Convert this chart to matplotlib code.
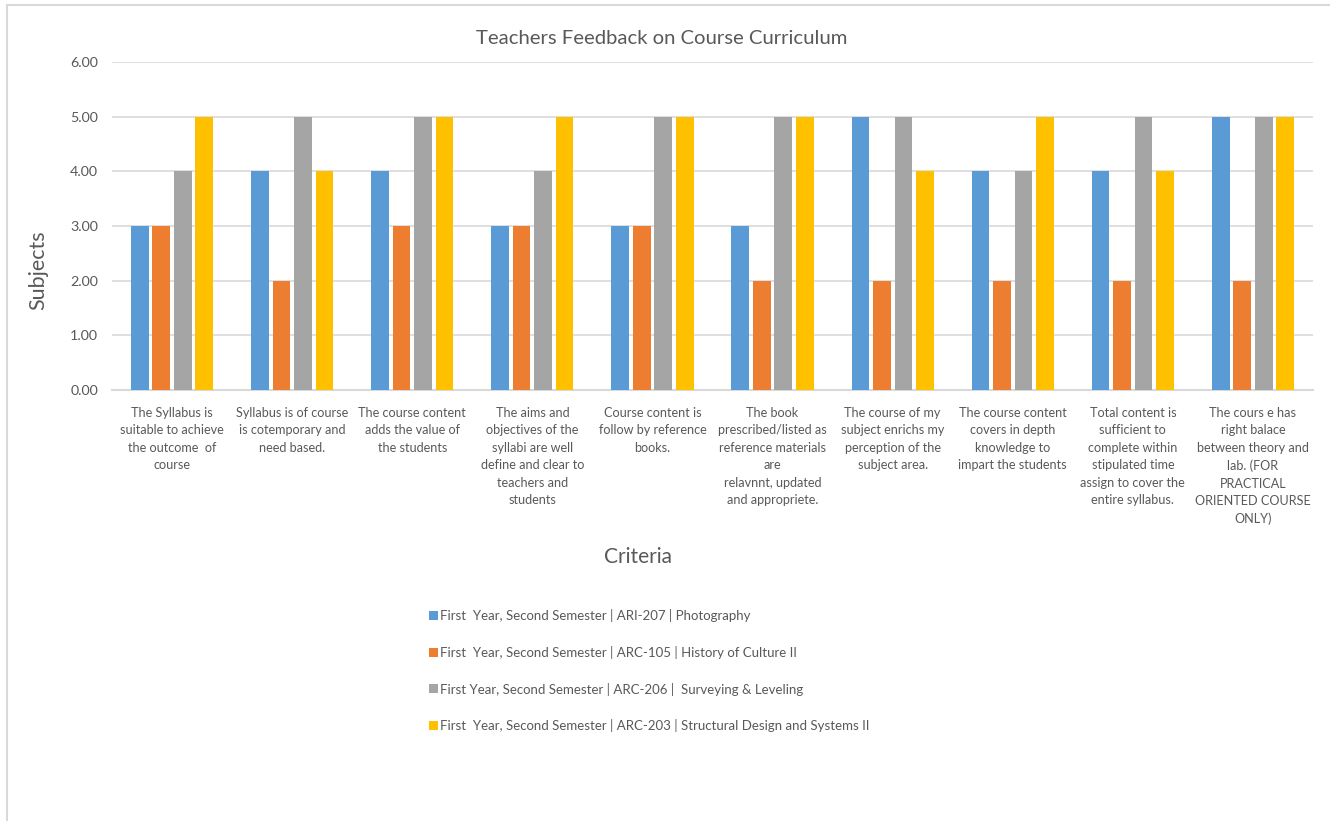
import matplotlib
matplotlib.use("Agg")
import matplotlib.pyplot as plt
import numpy as np
from matplotlib.patches import Patch
from matplotlib.lines import Line2D

plt.rcParams['font.family'] = ['Lato', 'DejaVu Sans']

title = "Teachers Feedback on Course Curriculum"
categories = [
    "The Syllabus is\nsuitable to achieve\nthe outcome  of\ncourse",
    "Syllabus is of course\nis cotemporary and\nneed based.",
    "The course content\nadds the value of\nthe students",
    "The aims and\nobjectives of the\nsyllabi are well\ndefine and clear to\nteachers and\nstudents",
    "Course content is\nfollow by reference\nbooks.",
    "The book\nprescribed/listed as\nreference materials\nare\nrelavnnt, updated\nand appropriete.",
    "The course of my\nsubject enrichs my\nperception of the\nsubject area.",
    "The course content\ncovers in depth\nknowledge to\nimpart the students",
    "Total content is\nsufficient to\ncomplete within\nstipulated time\nassign to cover the\nentire syllabus.",
    "The cours e has\nright balace\nbetween theory and\nlab. (FOR\nPRACTICAL\nORIENTED COURSE\nONLY)",
]
series_names = [
    "First  Year, Second Semester | ARI-207 | Photography",
    "First  Year, Second Semester | ARC-105 | History of Culture II",
    "First Year, Second Semester | ARC-206 |  Surveying & Leveling",
    "First  Year, Second Semester | ARC-203 | Structural Design and Systems II",
]
photography = [3, 4, 4, 3, 3, 3, 5, 4, 4, 5]
history = [3, 2, 3, 3, 3, 2, 2, 2, 2, 2]
surveying = [4, 5, 5, 4, 5, 5, 5, 4, 5, 5]
structural = [5, 4, 5, 5, 5, 5, 4, 5, 4, 5]
yticks = [0, 1, 2, 3, 4, 5, 6]

series = [photography, history, surveying, structural]
colors = ["#5B9BD5", "#ED7D31", "#A5A5A5", "#FFC000"]
text_color = "#595959"

fig = plt.figure(figsize=(13.3, 8.21), dpi=100)
ax = fig.add_axes([112/1330, 1-390/821, (1313-112)/1330, (390-62)/821])

x = np.arange(len(categories))
bw = 0.148
step = 0.179
for i, (vals, c, name) in enumerate(zip(series, colors, series_names)):
    ax.bar(x + (i - 1.5) * step, vals, width=bw, color=c, label=name, zorder=3)

ax.set_xlim(-0.5, len(categories) - 0.5)
ax.set_ylim(0, 6)
ax.set_yticks(yticks)
ax.set_yticklabels([f"{v:.2f}" for v in yticks], fontsize=10.3, color=text_color)
ax.set_xticks(x)
ax.set_xticklabels(categories, fontsize=9.1, color=text_color, linespacing=1.55)
ax.tick_params(axis='both', length=0)
ax.tick_params(axis='x', pad=12)
ax.tick_params(axis='y', pad=10)
ax.grid(axis='y', color="#D9D9D9", linewidth=1.2, zorder=0)
for s in ['top', 'right', 'left']:
    ax.spines[s].set_visible(False)
ax.spines['bottom'].set_color("#D9D9D9")
ax.spines['bottom'].set_linewidth(1.5)

fig.text(662/1330, 1-39/821, title, fontsize=14.6, color=text_color, ha='center', va='center')
fig.text(38/1330, 1-270/821, "Subjects", fontsize=15.5, color=text_color, rotation=90, ha='center', va='center')
fig.text(638/1330, 1-557/821, "Criteria", fontsize=15, color=text_color, ha='center', va='center')

handles = [Patch(facecolor=c, edgecolor='none') for c in colors]
fig.legend(handles, series_names, loc='upper left', bbox_to_anchor=(429/1330, 1-609/821),
           frameon=False, fontsize=9.5, labelcolor=text_color, handlelength=0.65,
           handleheight=0.65, handletextpad=0.2, labelspacing=1.8, borderaxespad=0, borderpad=0)

# chart frame
fig.add_artist(Line2D([7/1330, 1], [1-5/821, 1-5/821], color="#D9D9D9", linewidth=1.5, transform=fig.transFigure))
fig.add_artist(Line2D([7/1330, 7/1330], [0, 1-5/821], color="#D9D9D9", linewidth=1.5, transform=fig.transFigure))

fig.savefig("out.png", dpi=100, facecolor="white")
